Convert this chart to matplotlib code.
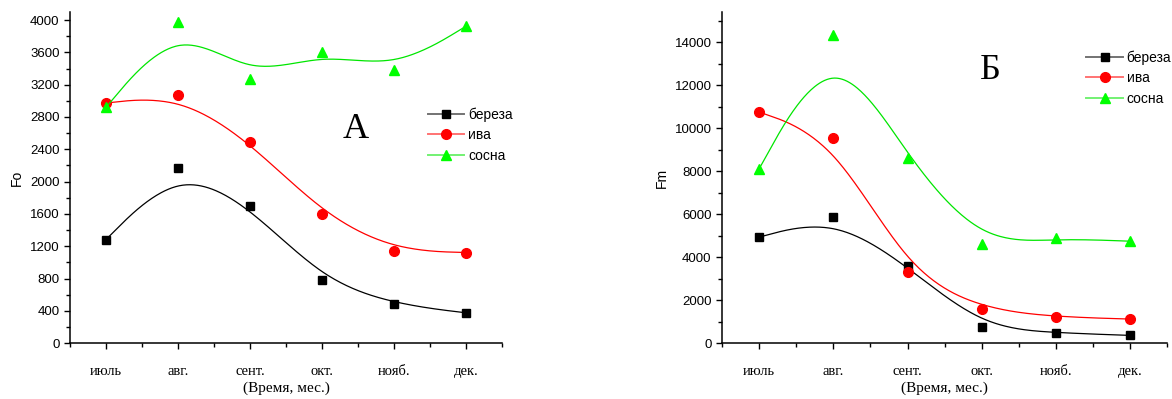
import numpy as np
import matplotlib.pyplot as plt
from matplotlib.lines import Line2D

months = ["июль", "авг.", "сент.", "окт.", "нояб.", "дек."]
species = ["береза", "ива", "сосна"]

fo_bereza = [1283, 2173, 1695, 783, 482, 375]
fo_iva = [2973, 3068, 2495, 1600, 1146, 1122]
fo_sosna = [2920, 3975, 3274, 3604, 3386, 3926]

fm_bereza = [4930, 5850, 3590, 730, 480, 360]
fm_iva = [10750, 9540, 3290, 1580, 1220, 1120]
fm_sosna = [8100, 14310, 8600, 4590, 4870, 4740]

line_colors = ["black", "red", "#00e600"]
mark_colors = ["black", "red", "#00ff00"]
leg_colors = [(0, 0, 0, 0.55), (1, 0, 0, 0.55), (0, 0.9, 0, 0.55)]
markers = ["s", "o", "^"]
msizes = [6, 7, 7.5]


def bspline(x, y, n=60):
    # uniform cubic B-spline, data points as control points, ends repeated
    x = np.asarray(x, float)
    y = np.asarray(y, float)
    px = np.concatenate([[x[0]] * 2, x, [x[-1]] * 2])
    py = np.concatenate([[y[0]] * 2, y, [y[-1]] * 2])
    t = np.linspace(0, 1, n)
    b0 = (1 - t) ** 3 / 6
    b1 = (3 * t ** 3 - 6 * t ** 2 + 4) / 6
    b2 = (-3 * t ** 3 + 3 * t ** 2 + 3 * t + 1) / 6
    b3 = t ** 3 / 6
    cx, cy = [], []
    for i in range(len(px) - 3):
        cx.append(b0 * px[i] + b1 * px[i + 1] + b2 * px[i + 2] + b3 * px[i + 3])
        cy.append(b0 * py[i] + b1 * py[i + 1] + b2 * py[i + 2] + b3 * py[i + 3])
    return np.concatenate(cx), np.concatenate(cy)


fig = plt.figure(figsize=(11.72, 3.99), dpi=100)
ax1 = fig.add_axes([0.0597, 0.140, 0.369, 0.830])
ax2 = fig.add_axes([0.616, 0.140, 0.380, 0.830])

xs = np.arange(1, 7)
panels = [
    (ax1, [fo_bereza, fo_iva, fo_sosna], "Fo", 4100, 400, 200, "А", (4.46, 2640),
     (0.815, 0.728)),
    (ax2, [fm_bereza, fm_iva, fm_sosna], "Fm", 15400, 2000, 1000, "Б", (4.12, 12690),
     (0.806, 0.90)),
]

for ax, series, ylab, ytop, ymaj, ymin, letter, lpos, legpos in panels:
    handles = []
    for vals, lc, mc, lg, mk, ms in zip(series, line_colors, mark_colors, leg_colors,
                                        markers, msizes):
        cx, cy = bspline(xs, vals)
        ax.plot(cx, cy, color=lc, lw=0.9)
        ax.plot(xs, vals, ls="none", marker=mk, ms=ms, color=mc, mec=mc)
        handles.append(Line2D([], [], color=lg, lw=1.4, marker=mk, ms=ms, mfc=mc, mec=mc))
    ax.set_xlim(0.5, 6.5)
    ax.set_ylim(0, ytop)
    ax.set_xticks(xs)
    ax.set_xticks(np.arange(0.5, 7, 1), minor=True)
    ax.set_xticklabels(months, family="Liberation Serif", fontsize=10.5)
    ax.set_yticks(np.arange(0, ytop, ymaj))
    ax.set_yticks(np.arange(0, ytop, ymin), minor=True)
    for lab in ax.get_yticklabels():
        lab.set_family("Liberation Sans")
        lab.set_fontsize(9.5)
    ax.spines["top"].set_visible(False)
    ax.spines["right"].set_visible(False)
    ax.spines["left"].set_linewidth(1.1)
    ax.spines["bottom"].set_linewidth(1.1)
    ax.tick_params(axis="both", which="major", direction="out", length=4, width=1)
    ax.tick_params(axis="both", which="minor", direction="out", length=3, width=1)
    ax.tick_params(axis="x", pad=12)
    ax.set_xlabel("(Время, мес.)", family="Liberation Serif", fontsize=11, labelpad=2)
    ax.set_ylabel(ylab, family="Liberation Sans", fontsize=10)
    ax.text(lpos[0], lpos[1], letter, family="Liberation Serif", fontsize=26,
            ha="center", va="center")
    ax.legend(handles, species, loc="upper left", bbox_to_anchor=legpos, frameon=False,
              prop={"family": "Liberation Sans", "size": 10}, handlelength=2.6,
              handletextpad=0.3, labelspacing=0.45, borderaxespad=0)

fig.savefig("out.png", dpi=100)
